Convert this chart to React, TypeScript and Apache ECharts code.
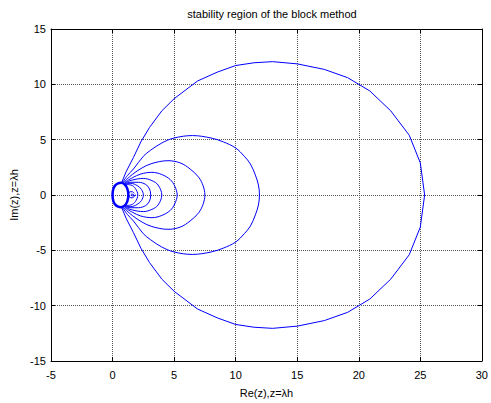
import React, { useEffect, useRef } from "react";
import * as echarts from "echarts";

const titleText = "stability region of the block method";
const xName = "Re(z),z=λh";
const yName = "Im(z),z=λh";
const xRange = [-5, 30];
const yRange = [-15, 15];
const tickStep = 5;

// boundary-locus curves (x = Re, y = Im)
const curve1: number[][] = [
  [0.75, 1.15], [1.1, 2.1], [1.7, 3.4], [2.3, 4.8], [3.0, 6.1], [4.0, 7.6], [5.0, 8.7],
  [6.9, 10.3], [8.5, 11.1], [10, 11.7], [11.5, 11.95], [13, 12.05], [15, 11.85],
  [17.2, 11.35], [19.1, 10.6], [20.9, 9.4], [22.6, 7.6], [24.1, 5.4], [25.0, 2.9], [25.35, 0],
  [25.0, -2.9], [24.1, -5.4], [22.6, -7.6], [20.9, -9.4], [19.1, -10.6], [17.2, -11.35],
  [15, -11.85], [13, -12.05], [11.5, -11.95], [10, -11.7], [8.5, -11.1], [6.9, -10.3],
  [5.0, -8.7], [4.0, -7.6], [3.0, -6.1], [2.3, -4.8], [1.7, -3.4], [1.1, -2.1], [0.75, -1.15],
];
const curve2: number[][] = [
  [0.8, 1.1], [1.2, 1.75], [1.7, 2.35], [2.5, 3.5], [3.1, 4.05], [4.0, 4.7], [5.0, 5.15],
  [6.5, 5.37], [8.0, 5.15], [9.0, 4.8], [10.0, 4.25], [10.7, 3.5], [11.2, 2.8], [11.6, 1.8],
  [11.85, 0.9], [11.93, 0],
  [11.85, -0.9], [11.6, -1.8], [11.2, -2.8], [10.7, -3.5], [10.0, -4.25], [9.0, -4.8],
  [8.0, -5.15], [6.5, -5.37], [5.0, -5.15], [4.0, -4.7], [3.1, -4.05], [2.5, -3.5],
  [1.7, -2.35], [1.2, -1.75], [0.8, -1.1],
];
const curve3: number[][] = [
  [0.9, 1.15], [1.6, 1.85], [2.4, 2.45], [3.2, 2.85], [4.5, 3.1], [5.5, 2.9], [6.3, 2.35],
  [7.0, 1.6], [7.35, 0.85], [7.5, 0],
  [7.35, -0.85], [7.0, -1.6], [6.3, -2.35], [5.5, -2.9], [4.5, -3.1], [3.2, -2.85],
  [2.4, -2.45], [1.6, -1.85], [0.9, -1.15],
];
const curve4: number[][] = [
  [1.0, 1.15], [1.6, 1.55], [2.3, 1.9], [3.2, 2.05], [4.0, 1.85], [4.68, 1.4], [5.05, 0.8], [5.25, 0],
  [5.05, -0.8], [4.68, -1.4], [4.0, -1.85], [3.2, -2.05], [2.3, -1.9], [1.6, -1.55], [1.0, -1.15],
];
const curve5: number[][] = [
  [1.0, 1.1], [1.6, 1.35], [2.5, 1.5], [3.2, 1.3], [3.7, 0.9], [4.0, 0],
  [3.7, -0.9], [3.2, -1.3], [2.5, -1.5], [1.6, -1.35], [1.0, -1.1],
];
const curve6: number[][] = [
  [1.0, 1.05], [1.5, 1.15], [2.1, 1.15], [2.7, 0.95], [3.0, 0.55], [3.1, 0],
  [3.0, -0.55], [2.7, -0.95], [2.1, -1.15], [1.5, -1.15], [1.0, -1.05],
];
const curve7: number[][] = [
  [1.0, 1.0], [1.5, 1.05], [2.0, 0.85], [2.35, 0.5], [2.5, 0],
  [2.35, -0.5], [2.0, -0.85], [1.5, -1.05], [1.0, -1.0],
];
const curve8: number[][] = [
  [1.0, 0.95], [1.5, 0.9], [1.85, 0.6], [2.05, 0],
  [1.85, -0.6], [1.5, -0.9], [1.0, -0.95],
];
const ellipse: number[][] = [
  [0, 0], [0.05, 0.5], [0.2, 0.85], [0.45, 1.05], [0.7, 1.1], [0.95, 1.0], [1.15, 0.7],
  [1.25, 0.35], [1.28, 0], [1.25, -0.35], [1.15, -0.7], [0.95, -1.0], [0.7, -1.1],
  [0.45, -1.05], [0.2, -0.85], [0.05, -0.5], [0, 0],
];
const smallLoop: number[][] = [
  [1.75, 0.15], [1.6, 0.3], [1.4, 0.28], [1.3, 0.05], [1.38, -0.2], [1.6, -0.25],
  [1.75, -0.12], [1.7, 0.05], [1.55, 0.08], [1.5, -0.02], [1.6, -0.08], [1.9, 0],
];

const smoothCurves = [curve2, curve3, curve4, curve5, curve6, curve7, curve8];

export default function App() {
  const ref = useRef<HTMLDivElement>(null);
  useEffect(() => {
    if (!ref.current) return;
    const chart = echarts.init(ref.current, null, { renderer: "svg" });
    const font = "'Liberation Sans', Arial, sans-serif";
    const blue = "#0000ff";
    const splitLine = { show: true, lineStyle: { color: "#555", type: "dotted" as const, width: 1 } };
    const axisLine = { show: true, onZero: false, lineStyle: { color: "#000", width: 1 } };
    const axisTick = { show: true, inside: true, length: 4, lineStyle: { color: "#000" } };
    const axisLabel = { color: "#000", fontSize: 11, fontFamily: font };
    const series: any[] = [];
    series.push({
      type: "line", data: curve1, showSymbol: false, smooth: false,
      lineStyle: { color: blue, width: 1 }, itemStyle: { color: blue },
    });
    smoothCurves.forEach((c) =>
      series.push({
        type: "line", data: c, showSymbol: false, smooth: 0.35,
        lineStyle: { color: blue, width: 1 }, itemStyle: { color: blue },
      })
    );
    series.push({
      type: "line", data: ellipse, showSymbol: false, smooth: 0.4,
      lineStyle: { color: blue, width: 2.5 }, itemStyle: { color: blue },
    });
    series.push({
      type: "line", data: smallLoop, showSymbol: false, smooth: 0.4,
      lineStyle: { color: blue, width: 1 }, itemStyle: { color: blue },
    });
    chart.setOption({
      animation: false,
      backgroundColor: "#fff",
      title: {
        text: titleText, left: 267, top: 3, textAlign: "center",
        textStyle: { fontSize: 11, fontWeight: "normal", color: "#000", fontFamily: font },
      },
      grid: { left: 51, right: 9, top: 29, bottom: 40 },
      xAxis: [
        {
          type: "value", min: xRange[0], max: xRange[1], interval: tickStep,
          name: xName, nameLocation: "middle", nameGap: 26,
          nameTextStyle: { color: "#000", fontSize: 11, fontFamily: font },
          axisLine, axisTick, axisLabel: { ...axisLabel, margin: 8 }, splitLine,
        },
        {
          type: "value", min: xRange[0], max: xRange[1], interval: tickStep, position: "top",
          axisLine, axisTick, axisLabel: { show: false }, splitLine: { show: false },
        },
      ],
      yAxis: [
        {
          type: "value", min: yRange[0], max: yRange[1], interval: tickStep,
          name: yName, nameLocation: "middle", nameGap: 29, nameRotate: 90,
          nameTextStyle: { color: "#000", fontSize: 11, fontFamily: font },
          axisLine, axisTick, axisLabel: { ...axisLabel, margin: 5 }, splitLine,
        },
        {
          type: "value", min: yRange[0], max: yRange[1], interval: tickStep, position: "right",
          axisLine, axisTick, axisLabel: { show: false }, splitLine: { show: false },
        },
      ],
      series,
    });
    return () => chart.dispose();
  }, []);
  return (
    <div
      ref={ref}
      style={{ position: "fixed", left: 0, top: 0, width: 491, height: 403, background: "#fff" }}
    />
  );
}
